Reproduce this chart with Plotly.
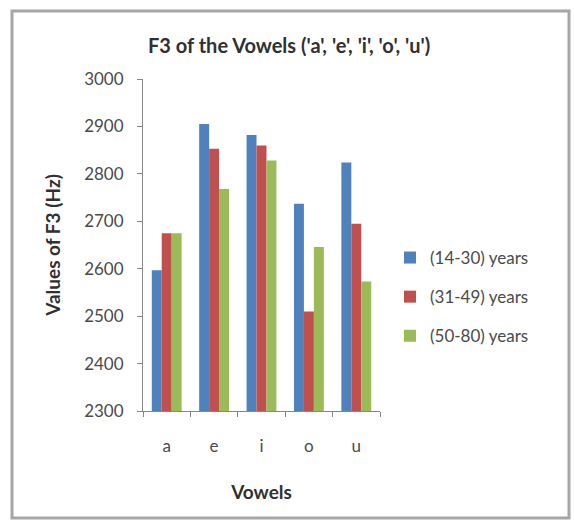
import plotly.graph_objects as go

vowels = ["a", "e", "i", "o", "u"]
series_names = ["(14-30) years", "(31-49) years", "(50-80) years"]
g14_30 = [2597, 2905, 2882, 2737, 2824]
g31_49 = [2675, 2853, 2860, 2510, 2695]
g50_80 = [2675, 2768, 2828, 2646, 2573]
colors = ["#4F81BD", "#C0504D", "#9BBB59"]
y_ticks = [2300, 2400, 2500, 2600, 2700, 2800, 2900, 3000]

FONT = "Lato, 'Open Sans', sans-serif"

fig = go.Figure()
for name, vals, col in zip(series_names, [g14_30, g31_49, g50_80], colors):
    fig.add_trace(go.Bar(x=vowels, y=vals, name=name, marker_color=col,
                         marker_line_width=0, legendgroup=name))

W, H = 574, 521
L, R, T, B = 143, 194, 79, 110
pw, ph = W - L - R, H - T - B

def px_to_paper_x(px):
    return (px - L) / pw

def px_to_paper_y(py):
    return (H - B - py) / ph

fig.update_layout(
    width=W, height=H,
    margin=dict(l=L, r=R, t=T, b=B),
    paper_bgcolor="white", plot_bgcolor="white",
    font=dict(family=FONT, size=17, color="#404040"),
    barmode="group", bargap=0.37, bargroupgap=0,
    showlegend=True,
    legend=dict(x=px_to_paper_x(390), y=px_to_paper_y(240), xanchor="left", yanchor="top",
                font=dict(size=17, color="#4a4a4a"), tracegroupgap=14,
                itemwidth=30, bgcolor="rgba(0,0,0,0)"),
    xaxis=dict(showline=True, linecolor="#868686", linewidth=1,
               ticks="outside", ticklen=5, tickcolor="#868686",
               tickson="boundaries", showgrid=False, ticklabelstandoff=20,
               tickfont=dict(size=17, color="#4a4a4a"),
               title=dict(text="<b>Vowels</b>", font=dict(size=19, color="#303030"), standoff=30)),
    yaxis=dict(range=[2300, 3000], tickvals=y_ticks, showline=True, linecolor="#868686",
               linewidth=1, ticks="outside", ticklen=5, tickcolor="#868686",
               showgrid=False, zeroline=False, ticklabelstandoff=10,
               tickfont=dict(size=17, color="#4a4a4a"),
               title=dict(text="<b>Values of F3 (Hz)</b>", font=dict(size=19, color="#303030"), standoff=18)),
    annotations=[dict(text="<b>F3 of the Vowels ('a', 'e', 'i', 'o', 'u')</b>",
                      x=px_to_paper_x(289), y=px_to_paper_y(45), xref="paper", yref="paper",
                      showarrow=False, xanchor="center", yanchor="middle",
                      font=dict(size=20, color="#303030", family=FONT))],
    shapes=[dict(type="rect", xref="paper", yref="paper",
                 x0=px_to_paper_x(12), x1=px_to_paper_x(569),
                 y0=px_to_paper_y(518), y1=px_to_paper_y(11),
                 line=dict(color="#A6A6A6", width=3), fillcolor="rgba(0,0,0,0)", layer="below")],
)

fig.write_html("out.html", config={"displayModeBar": False},
               post_script="document.body.style.margin='0px';document.body.style.overflow='hidden';")
